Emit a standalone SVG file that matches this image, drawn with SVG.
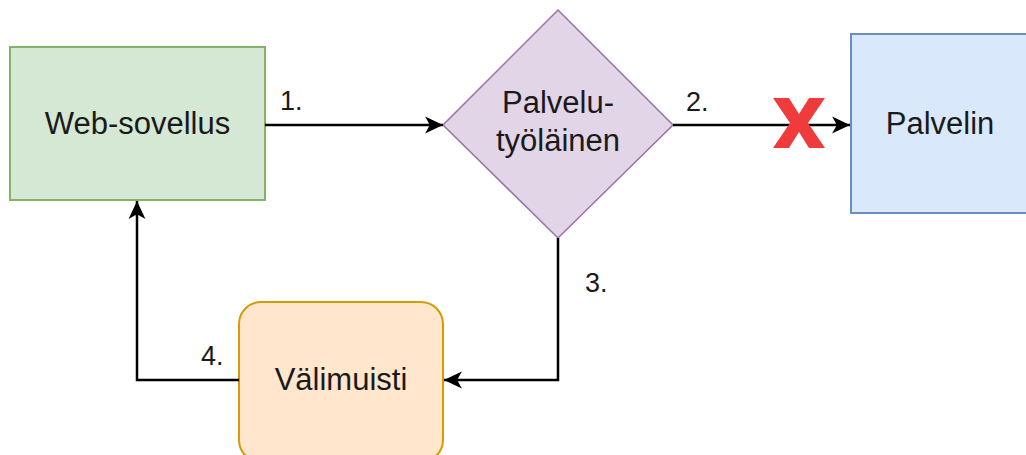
<svg xmlns="http://www.w3.org/2000/svg" width="1026" height="455" viewBox="0 0 1026 455">
  <style>
    .label { font-family: "Liberation Sans", Arial, Helvetica, sans-serif; font-size: 31px; fill: #1a1a1a; text-anchor: middle; }
    .step { font-family: "Liberation Sans", Arial, Helvetica, sans-serif; font-size: 27px; fill: #1a1a1a; }
    .edge { fill: none; stroke: #000; stroke-width: 2.5; }
  </style>
  <defs>
    <marker id="arrow" markerUnits="userSpaceOnUse" markerWidth="20" markerHeight="20" viewBox="-18 -9 19 18" refX="0" refY="0" orient="auto">
      <path d="M0,0 L-17,-8 L-12.5,0 L-17,8 z" fill="#000"/>
    </marker>
  </defs>
  <rect width="1026" height="455" fill="#fff"/>

  <g id="web-sovellus">
    <rect x="10" y="47" width="255" height="153" fill="#d5e8d4" stroke="#82b366" stroke-width="2"/>
    <text class="label" x="137.5" y="134">Web-sovellus</text>
  </g>

  <g id="palvelutyolainen">
    <polygon points="558,10 673,125 558,238 443,125" fill="#e1d5e7" stroke="#9673a6" stroke-width="1.5"/>
    <text class="label" x="558" y="113">Palvelu-</text>
    <text class="label" x="558" y="151">työläinen</text>
  </g>

  <g id="palvelin">
    <rect x="851" y="34" width="180" height="179" fill="#dae8fc" stroke="#6c8ebf" stroke-width="2"/>
    <text class="label" x="940" y="134">Palvelin</text>
  </g>

  <g id="valimuisti">
    <rect x="239" y="302" width="204" height="160" rx="22" ry="22" fill="#ffe6cc" stroke="#d79b00" stroke-width="2"/>
    <text class="label" x="341" y="390">Välimuisti</text>
  </g>

  <g id="connectors">
    <path class="edge" d="M265,125 H443" marker-end="url(#arrow)"/>
    <path class="edge" d="M673,125 H850" marker-end="url(#arrow)"/>
    <path class="edge" d="M558,238 V380 H444" marker-end="url(#arrow)"/>
    <path class="edge" d="M239,380 H137 V201" marker-end="url(#arrow)"/>
    <text class="step" x="280" y="110">1.</text>
    <text class="step" x="686" y="111">2.</text>
    <text class="step" x="585" y="292">3.</text>
    <text class="step" x="201" y="365">4.</text>
    <!-- red cross marking the broken request to the server -->
    <path id="red-x" d="M773,98 L789,98 L799,114 L809,98 L825,98 L808,123 L825,148 L809,148 L799,132 L789,148 L773,148 L790,123 z" fill="#ef3b3b"/>
  </g>
</svg>
